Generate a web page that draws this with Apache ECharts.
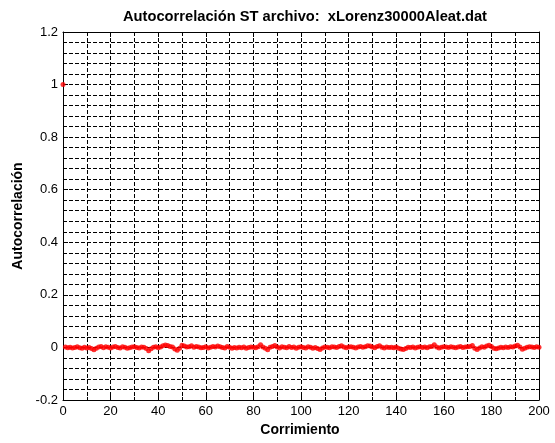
<!DOCTYPE html>
<html>
<head>
<meta charset="utf-8">
<script src="https://cdn.jsdelivr.net/npm/echarts@6/dist/echarts.min.js"></script>
<style>html,body{margin:0;padding:0;background:#fff;}#c{width:555px;height:443px;}</style>
</head>
<body>
<div id="c"></div>
<script>
const titleText = 'Autocorrelación ST archivo:  xLorenz30000Aleat.dat';
const xName = 'Corrimiento';
const yName = 'Autocorrelación';
const lag0 = [0, 1];
const lags = [];
for (let i = 1; i <= 200; i++) lags.push(i);
const acf = [
 0.002,-0.001,0.001,-0.002,0.000,0.003,-0.001,-0.003,0.001,-0.002,
 0.000,-0.004,-0.009,-0.003,0.002,0.004,-0.001,0.003,0.001,-0.002,
 0.002,0.004,0.000,-0.002,0.003,0.001,-0.003,-0.001,0.002,0.003,
 0.000,-0.002,0.002,0.001,-0.004,-0.013,-0.005,0.001,0.003,-0.001,
 0.002,0.006,0.009,0.007,0.004,0.002,-0.006,-0.011,-0.003,0.008,
 0.005,0.002,0.003,0.006,0.001,0.004,0.002,-0.001,0.000,0.003,
 -0.002,0.001,0.004,0.002,0.005,0.003,0.000,-0.002,0.004,0.001,
 -0.003,0.000,-0.002,0.001,-0.001,0.002,-0.003,0.000,0.002,0.001,
 -0.001,0.003,0.010,0.002,-0.003,-0.009,0.001,0.004,0.007,0.002,
 -0.002,0.003,0.001,-0.001,0.004,0.000,0.002,-0.003,0.001,0.003,
 0.000,-0.002,0.003,0.001,-0.003,0.000,-0.004,-0.008,-0.002,0.002,
 0.001,-0.001,0.003,0.002,0.000,0.004,0.006,0.002,-0.001,0.002,
 0.003,0.001,-0.002,0.002,0.004,0.001,0.003,0.006,0.005,0.002,
 -0.001,0.004,0.006,0.001,-0.002,0.002,0.000,0.001,-0.001,0.002,
 -0.003,-0.006,-0.008,-0.004,0.001,0.000,0.002,-0.002,0.001,0.003,
 0.000,0.002,-0.001,0.003,0.004,0.010,0.002,-0.002,0.001,0.003,
 0.002,0.000,0.003,0.001,-0.001,0.002,0.004,0.000,0.002,0.003,
 0.004,0.007,-0.003,-0.008,-0.002,0.003,0.001,0.005,0.008,0.004,
 -0.003,-0.005,-0.002,0.001,-0.001,0.002,0.000,0.003,0.002,0.005,
 0.008,0.002,-0.007,-0.003,0.001,0.003,0.002,0.000,0.003,0.001
];
const xMin = 0, xMax = 200, xStep = 20;
const yMin = -0.2, yMax = 1.2, yStep = 0.2;

const font = '"Liberation Sans", Arial, sans-serif';
const dash = {color:'#000', width:1, type:[4,2]};
function xAxis(pos, labels){
  return {type:'value', position:pos, min:xMin, max:xMax, interval:xStep,
    axisLine:{show:true, onZero:false, lineStyle:{color:'#000', width:1}},
    axisTick:{show:true, inside:true, length:5, lineStyle:{color:'#000'}},
    minorTick:{show:true, splitNumber:2, length:3, lineStyle:{color:'#000'}},
    splitLine:{show:labels, lineStyle:dash},
    minorSplitLine:{show:labels, lineStyle:dash},
    axisLabel:{show:labels, color:'#000', fontSize:13, fontFamily:font, margin:5}};
}
function yAxis(pos, labels){
  return {type:'value', position:pos, min:yMin, max:yMax, interval:yStep,
    axisLine:{show:true, onZero:false, lineStyle:{color:'#000', width:1}},
    axisTick:{show:true, inside:true, length:5, lineStyle:{color:'#000'}},
    minorTick:{show:true, splitNumber:5, length:3, lineStyle:{color:'#000'}},
    splitLine:{show:labels, lineStyle:dash},
    minorSplitLine:{show:labels, lineStyle:dash},
    axisLabel:{show:labels, color:'#000', fontSize:13, fontFamily:font, margin:5}};
}
const chart = echarts.init(document.getElementById('c'), null, {renderer:'canvas'});
chart.setOption({
  backgroundColor:'#fff',
  animation:false,
  title:{text:titleText, left:300, top:4, textAlign:'center',
    textStyle:{fontSize:14.7, fontWeight:'bold', color:'#000', fontFamily:font}},
  grid:{left:63, right:16, top:32, bottom:43, show:false},
  xAxis:[xAxis('bottom', true), xAxis('top', false)],
  yAxis:[yAxis('left', true), yAxis('right', false)],
  graphic:[
    {type:'text', x:300, y:430, style:{text:xName, fill:'#000', font:'bold 14px "Liberation Sans", Arial, sans-serif', textAlign:'center', textVerticalAlign:'middle'}},
    {type:'text', x:18, y:216, rotation:Math.PI/2, style:{text:yName, fill:'#000', font:'bold 14px "Liberation Sans", Arial, sans-serif', textAlign:'center', textVerticalAlign:'middle'}}
  ],
  series:[
    {type:'scatter', symbol:'circle', symbolSize:5, clip:false, silent:true,
      itemStyle:{color:'#ff0000'}, data:[lag0]},
    {type:'scatter', symbol:'circle', symbolSize:5, clip:false, silent:true,
      itemStyle:{color:'#ff0000'}, data:lags.map((l,i)=>[l, acf[i]])}
  ]
});
</script>
</body>
</html>
